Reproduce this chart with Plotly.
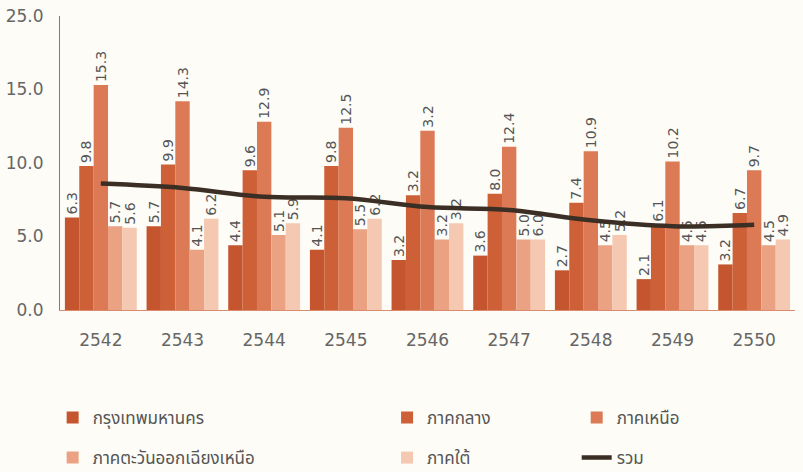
import plotly.graph_objects as go

years = ["2542", "2543", "2544", "2545", "2546", "2547", "2548", "2549", "2550"]

series_names = ["กรุงเทพมหานคร", "ภาคกลาง", "ภาคเหนือ", "ภาคตะวันออกเฉียงเหนือ", "ภาคใต้"]

bangkok = [6.3, 5.7, 4.4, 4.1, 3.4, 3.7, 2.7, 2.1, 3.1]
central = [9.8, 9.9, 9.5, 9.8, 7.8, 7.9, 7.3, 5.8, 6.6]
north = [15.3, 14.2, 12.8, 12.4, 12.2, 11.1, 10.8, 10.1, 9.5]
northeast = [5.7, 4.1, 5.1, 5.5, 4.8, 4.8, 4.4, 4.4, 4.4]
south = [5.6, 6.2, 5.9, 6.2, 5.9, 4.8, 5.1, 4.4, 4.8]

bangkok_lbl = ["6.3", "5.7", "4.4", "4.1", "3.2", "3.6", "2.7", "2.1", "3.2"]
central_lbl = ["9.8", "9.9", "9.6", "9.8", "3.2", "8.0", "7.4", "6.1", "6.7"]
north_lbl = ["15.3", "14.3", "12.9", "12.5", "3.2", "12.4", "10.9", "10.2", "9.7"]
northeast_lbl = ["5.7", "4.1", "5.1", "5.5", "3.2", "5.0", "4.5", "4.5", "4.5"]
south_lbl = ["5.6", "6.2", "5.9", "6.2", "3.2", "6.0", "5.2", "4.5", "4.9"]

total_name = "รวม"
total = [8.6, 8.3, 7.7, 7.6, 7.0, 6.8, 6.1, 5.7, 5.8]

ytick_vals = [0, 5, 10, 15, 20]
ytick_text = ["0.0", "5.0", "10.0", "15.0", "25.0"]

colors = ["#C4552F", "#CD6037", "#DC7A56", "#EAA283", "#F5C8B2"]
legends = ["legend", "legend2", "legend3", "legend", "legend2"]

fig = go.Figure()
values = [bangkok, central, north, northeast, south]
labels = [bangkok_lbl, central_lbl, north_lbl, northeast_lbl, south_lbl]
for i in range(5):
    fig.add_trace(go.Bar(
        x=years, y=values[i], name=series_names[i],
        marker=dict(color=colors[i], line=dict(width=0)),
        text=labels[i], textposition="outside", textangle=-90,
        constraintext="none", cliponaxis=False,
        textfont=dict(family="DejaVu Sans", size=14, color="#555555"),
        legend=legends[i], legendgroup="g%d" % i,
    ))

fig.add_trace(go.Scatter(
    x=years, y=total, name=total_name, mode="lines",
    line=dict(color="#3A2E25", width=4.5, shape="spline"),
    legend="legend3", legendgroup="g5",
))

legfont = dict(family="Noto Sans Thai, Loma, Garuda, Noto Sans, DejaVu Sans", size=17, color="#555555")
common = dict(orientation="v", xanchor="left", yanchor="top", y=-0.306,
              font=legfont, bgcolor="rgba(0,0,0,0)", tracegroupgap=15,
              itemwidth=30, traceorder="grouped")

fig.update_layout(
    width=803, height=472,
    margin=dict(l=60, r=8, t=16, b=162, autoexpand=False),
    paper_bgcolor="#FDFCF7", plot_bgcolor="#FDFCF7",
    barmode="group", bargap=0.12, bargroupgap=0,
    showlegend=True,
    legend=dict(x=-0.010, **common),
    legend2=dict(x=0.445, **common),
    legend3=dict(x=0.703, **common),
    xaxis=dict(showline=True, linecolor="#D98B70", linewidth=1, automargin=False,
               tickfont=dict(family="DejaVu Sans", size=17, color="#666666"),
               ticks="", showgrid=False, ticklabelstandoff=15),
    yaxis=dict(range=[0, 20], tickvals=ytick_vals, ticktext=ytick_text,
               showline=True, linecolor="#D9534F", linewidth=1, automargin=False,
               tickfont=dict(family="DejaVu Sans", size=17, color="#666666"),
               ticks="", showgrid=False, zeroline=False, ticklabelstandoff=12),
)

fig.write_html("out.html", config={"displayModeBar": False},
               post_script="document.body.style.margin='0';")
